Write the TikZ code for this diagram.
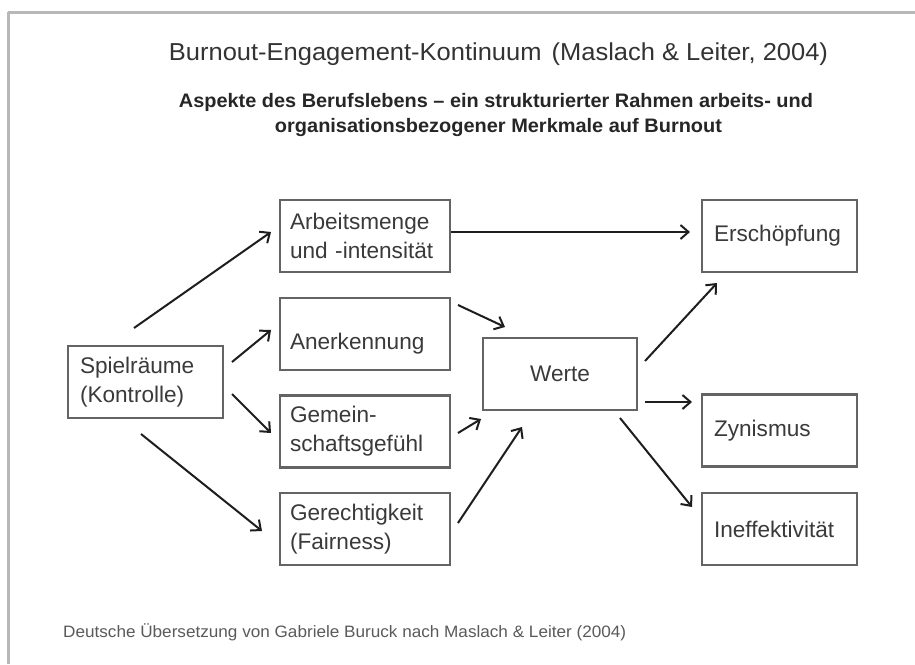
\documentclass[tikz,border=0pt]{standalone}
\usepackage{fontspec}
\usepackage{graphicx}
\setmainfont{Liberation Sans}
\usetikzlibrary{arrows.meta,calc}

\definecolor{framegray}{HTML}{B8B8B8}
\definecolor{boxgray}{HTML}{646464}
\definecolor{txtgray}{HTML}{3A3A3A}
\definecolor{titlegray}{HTML}{333333}
\definecolor{subblack}{HTML}{262626}
\definecolor{footgray}{HTML}{5A5A5A}
\definecolor{arrowblack}{HTML}{1E1E1E}

\newcommand{\boxfont}{\fontsize{22.6}{29}\selectfont}
\newcommand{\titlefont}{\fontsize{24.5}{29}\selectfont}
\newcommand{\subfont}{\fontsize{19.5}{25}\selectfont\bfseries}
\newcommand{\footfont}{\fontsize{16.5}{20}\selectfont}

\tikzset{
  box/.style={draw=boxgray, line width=2.6pt, rectangle, minimum height=72pt,
    inner ysep=0pt, align=left, font=\boxfont, text=txtgray, anchor=center},
  midbox/.style={box, text width=150pt, inner xsep=10pt},
  sidebox/.style={box, text width=131pt, inner xsep=12pt},
  centbox/.style={box, minimum width=154pt, align=center},
  arr/.style={draw=arrowblack, line width=2pt,
    -{Straight Barb[length=8pt,width=14pt,line width=2pt]}},
  txt/.style={inner sep=0pt, anchor=base}
}

\begin{document}
\begin{tikzpicture}[x=1pt,y=-1pt]
\useasboundingbox (0,0) rectangle (915,664);
\fill[white] (0,0) rectangle (915,664);

% frame lines along top and left edge
\draw[framegray, line width=3pt] (8,12) -- (915,12);
\draw[framegray, line width=3pt] (8,12) -- (8,664);

% headings
\node[txt, text=titlegray] (title) at (498.5,60)
  {\resizebox{659pt}{\height}{\titlefont Burnout-Engagement-Kontinuum\hspace{0.12em} (Maslach \& Leiter, 2004)}};
\node[txt, text=subblack] (sub1) at (496,107)
  {\resizebox{634pt}{\height}{\subfont Aspekte des Berufslebens -- ein strukturierter Rahmen arbeits- und}};
\node[txt, text=subblack] (sub2) at (498.5,132)
  {\resizebox{447pt}{\height}{\subfont organisationsbezogener Merkmale auf Burnout}};

% boxes
\node[sidebox] (spiel) at (145.5,382) {Spielräume\\(Kontrolle)};
\node[midbox] (arb) at (365,236) {Arbeitsmenge\\und -intensität};
\node[midbox] (ane) at (365,334) {\rule{0pt}{36pt}Anerkennung};
\node[midbox] (gem) at (365,431.5) {Gemein-\\schaftsgefühl};
\node[midbox] (ger) at (365,529) {Gerechtigkeit\\(Fairness)};
\node[centbox] (werte) at (560,374) {Werte};
\node[sidebox] (ers) at (779.5,236) {Erschöpfung};
\node[sidebox] (zyn) at (779.5,430.5) {Zynismus};
\node[sidebox] (ine) at (779.5,529) {Ineffektivität};

% connectors
\draw[arr] ($(spiel.center)+(-11.5,-54)$) -- ($(arb.center)+(-94,-4)$);
\draw[arr] ($(spiel.center)+(86.5,-20)$) -- ($(ane.center)+(-94,-4)$);
\draw[arr] ($(spiel.center)+(86.5,12)$) -- ($(gem.center)+(-94,1.5)$);
\draw[arr] ($(spiel.center)+(-4.5,52)$) -- ($(ger.center)+(-103,2)$);
\draw[arr] ($(arb.center)+(86,-4)$) -- ($(ers.center)+(-89.5,-4)$);
\draw[arr] ($(ane.center)+(93,-29)$) -- ($(werte.center)+(-55,-47)$);
\draw[arr] ($(gem.center)+(93,1.5)$) -- ($(werte.center)+(-79,45)$);
\draw[arr] ($(ger.center)+(93,-6)$) -- ($(werte.center)+(-38,53)$);
\draw[arr] ($(werte.center)+(85,-13)$) -- ($(ers.center)+(-62.5,47)$);
\draw[arr] ($(werte.center)+(85,28)$) -- ($(zyn.center)+(-87.5,-28.5)$);
\draw[arr] ($(werte.center)+(60,44)$) -- ($(ine.center)+(-87.5,-22)$);

% source line
\node[txt, text=footgray, anchor=base west] (foot) at (63,637)
  {\resizebox{563pt}{\height}{\footfont Deutsche Übersetzung von Gabriele Buruck nach Maslach \& Leiter (2004)}};
\end{tikzpicture}
\end{document}
